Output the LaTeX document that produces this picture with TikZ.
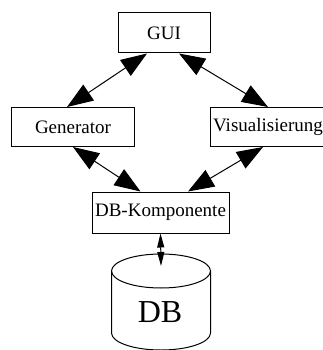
\documentclass[tikz,border=0pt]{standalone}
\usepackage{fontspec}
\setmainfont{Liberation Serif}
\usetikzlibrary{arrows.meta,calc}
\begin{document}
\begin{tikzpicture}[x=1pt,y=1pt,
  box/.style={draw,line width=1pt,inner sep=0pt,font=\fontsize{19}{21}\selectfont},
  big/.style={line width=1pt,{Triangle[length=26pt,width=19pt]}-{Triangle[length=26pt,width=19pt]}},
  small/.style={line width=1pt,{Triangle[length=14pt,width=7pt]}-{Triangle[length=14pt,width=7pt]}}]
\useasboundingbox (0,0) rectangle (323,-350);
\node[box,minimum width=92pt,minimum height=40pt] (gui) at (164,-33) {GUI};
\node[box,minimum width=123pt,minimum height=39pt] (gen) at (73,-127) {Generator};
\node[box,minimum width=116pt,minimum height=39pt] (vis) at (268,-127) {Visualisierung};
\node[box,minimum width=137pt,minimum height=41pt] (dbk) at (160.5,-212.5) {DB-Komponente};
% cylinder
\draw[line width=1pt] (161,-271) ellipse [x radius=49.5, y radius=17];
\draw[line width=1pt] (111.5,-271) -- (111.5,-333) arc[start angle=180,end angle=360,x radius=49.5,y radius=17] -- (210.5,-271);
\node[font=\fontsize{32}{35}\selectfont,inner sep=0pt] (db) at (160,-312) {DB};
\coordinate (dbtop) at (161,-266);
\draw[big] ([xshift=-17pt]gui.south) -- ([xshift=-6pt]gen.north);
\draw[big] ([xshift=15pt]gui.south) -- (vis.north);
\draw[big] ([xshift=0pt]gen.south) -- ([xshift=-20pt]dbk.north);
\draw[big] ([xshift=-5pt]vis.south) -- ([xshift=27.5pt]dbk.north);
\draw[small] (dbk.south) -- (dbtop);
\end{tikzpicture}
\end{document}
